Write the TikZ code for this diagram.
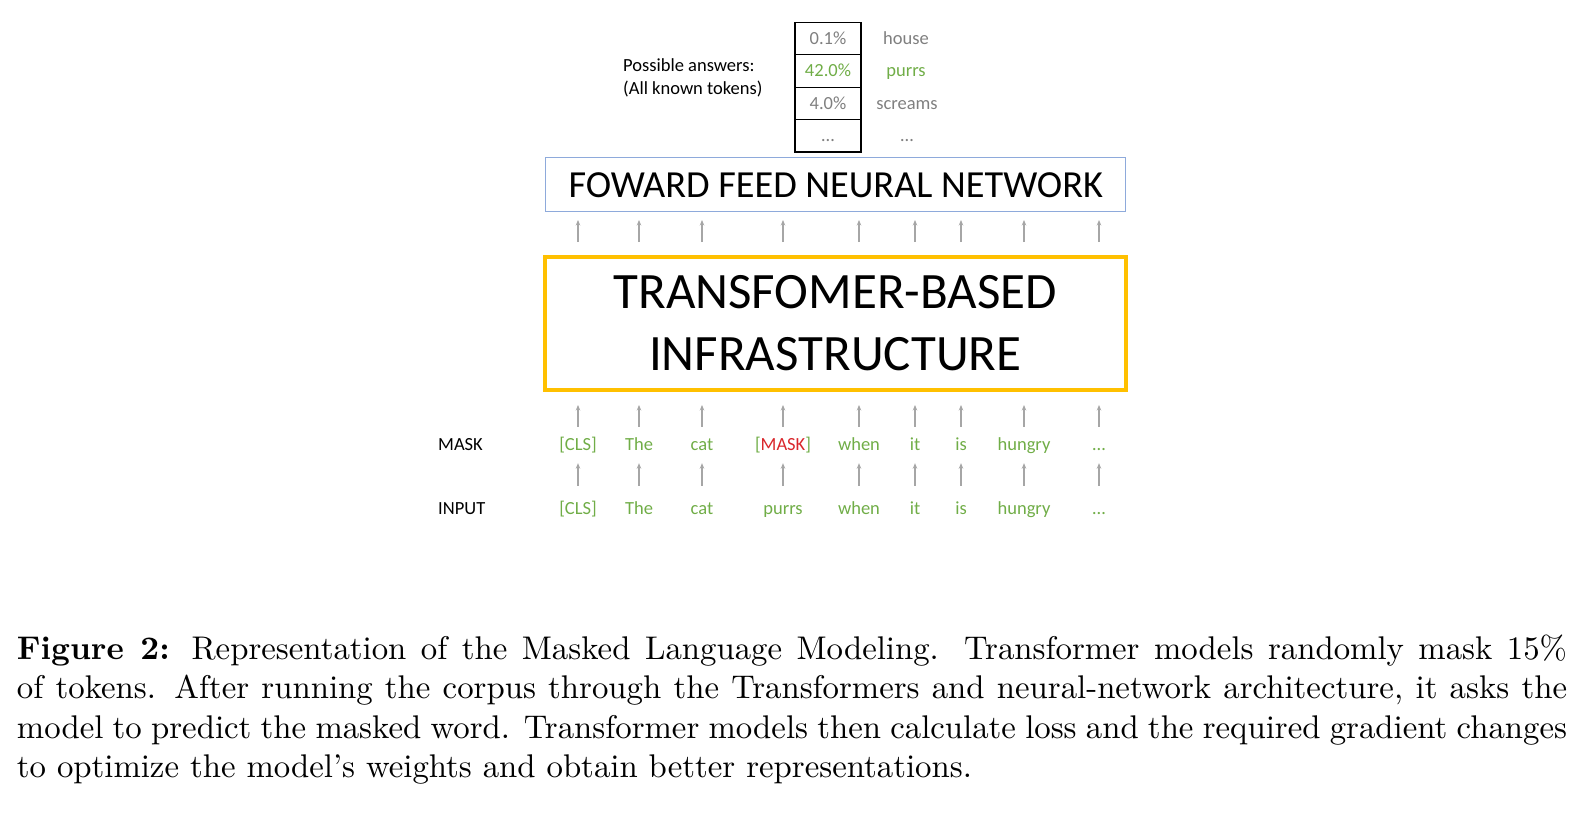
\documentclass[tikz,border=0pt]{standalone}
\usepackage{fontspec}
\newfontfamily\calfont{Carlito}
\usetikzlibrary{arrows.meta}
\definecolor{tgreen}{HTML}{70AD47}
\definecolor{tred}{HTML}{D9262B}
\definecolor{tgray}{HTML}{7F7F7F}
\definecolor{agray}{HTML}{A6A6A6}
\definecolor{tblue}{HTML}{8EAADB}
\definecolor{torange}{HTML}{FFC000}
\begin{document}
\begin{tikzpicture}[x=1pt,y=-1pt,
  small/.style={font=\calfont\fontsize{18.5}{23.5}\selectfont, inner sep=0pt, text height=12pt, text depth=0pt},
  tok/.style={small, text=tgreen},
  rowlab/.style={small, text=black, anchor=base west},
  cell/.style={small, draw=black, line width=1.3pt, minimum width=66pt, minimum height=32.4pt},
  ans/.style={small, text=tgray},
  arr/.style={-{Stealth[length=5.5pt,width=4.5pt]}, draw=agray, line width=1.3pt}]
\useasboundingbox (0,0) rectangle (1596,832);

% probability table
\node[cell, text=tgray]  (c1) at (828,38.6)  {0.1\%};
\node[cell, text=tgreen] (c2) at (828,71.0)  {42.0\%};
\node[cell, text=tgray]  (c3) at (828,103.4) {4.0\%};
\node[cell, text=tgray]  (c4) at (828,135.8) {…};
\node[ans] (a1) at (906,38.6) {house};
\node[ans, text=tgreen] (a2) at (906,71.0) {purrs};
\node[ans] (a3) at (907,103.4) {screams};
\node[ans] (a4) at (907,135.8) {…};
\node[font=\calfont\fontsize{18.5}{23.5}\selectfont, align=left, anchor=west, inner sep=0pt] (pa) at (623,78) {Possible answers:\\(All known tokens)};

% boxes
\node[draw=tblue, line width=1.2pt, minimum width=580pt, minimum height=54pt, inner sep=0pt,
  font=\calfont\fontsize{38.3}{46}\selectfont] (F) at (835.8,184.8) {FOWARD FEED NEURAL NETWORK};
\node[draw=torange, line width=4pt, minimum width=580.5pt, minimum height=133pt, inner sep=0pt, align=center,
  font=\calfont\fontsize{51}{62}\selectfont] (T) at (835.25,323) {TRANSFOMER-BASED\\INFRASTRUCTURE};

% row labels
\node[rowlab] (lm) at (438,450) {MASK};
\node[rowlab] (li) at (438,514) {INPUT};

% masked row
\node[tok] (m1) at (578,444) {[CLS]};
\node[tok] (m2) at (639,444) {The};
\node[tok] (m3) at (702,444) {cat};
\node[tok] (m4) at (783,444) {[\textcolor{tred}{MASK}]};
\node[tok] (m5) at (859,444) {when};
\node[tok] (m6) at (915,444) {it};
\node[tok] (m7) at (961,444) {is};
\node[tok] (m8) at (1024,444) {hungry};
\node[tok] (m9) at (1099,444) {…};

% input row
\node[tok] (i1) at (578,508) {[CLS]};
\node[tok] (i2) at (639,508) {The};
\node[tok] (i3) at (702,508) {cat};
\node[tok] (i4) at (783,508) {purrs};
\node[tok] (i5) at (859,508) {when};
\node[tok] (i6) at (915,508) {it};
\node[tok] (i7) at (961,508) {is};
\node[tok] (i8) at (1024,508) {hungry};
\node[tok] (i9) at (1099,508) {…};

\foreach \i in {1,...,9} {
  \draw[arr, shorten <=16pt, shorten >=13pt] (i\i.north) -- (m\i.south);
  \draw[arr, shorten <=11pt, shorten >=13.5pt] (m\i.north) -- (m\i.north |- T.south);
  \draw[arr, shorten <=12.5pt, shorten >=7.6pt] (m\i.north |- T.north) -- (m\i.north |- F.south);
}

% caption
\node[anchor=north west, inner sep=0pt, scale=3.28, text width=472.6pt, align=justify,
  font=\fontsize{10}{11.95}\selectfont] (cap) at (16.3,634.5)
  {\textbf{Figure 2:} Representation of the Masked Language Modeling. Transformer models randomly mask 15\%\linebreak
   of tokens. After running the corpus through the Transformers and neural-network architecture, it asks the\linebreak
   model to predict the masked word. Transformer models then calculate loss and the required gradient changes\linebreak
   to optimize the model's weights and obtain better representations.};
\end{tikzpicture}
\end{document}
